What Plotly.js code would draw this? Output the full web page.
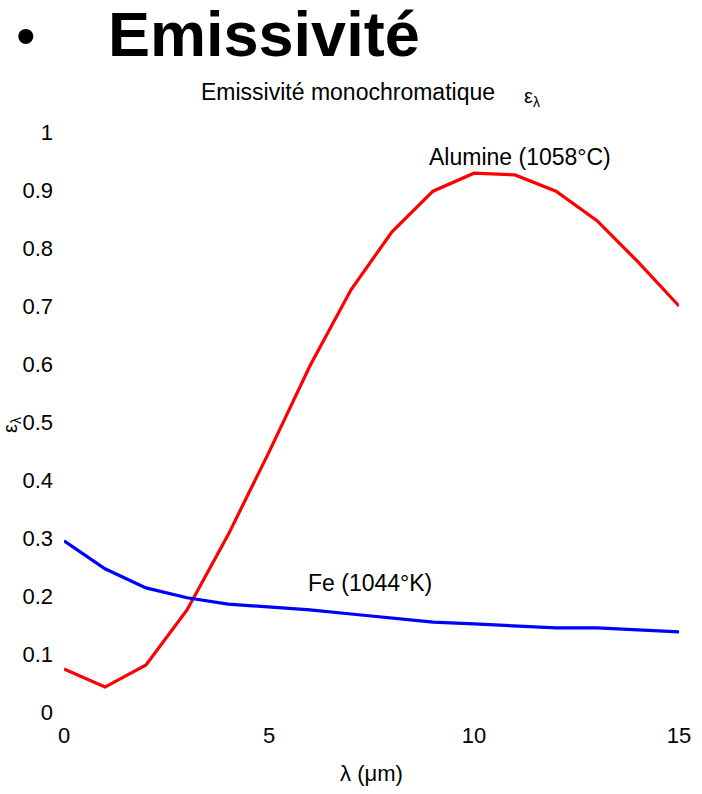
<!DOCTYPE html>
<html><head><meta charset="utf-8">
<script src="https://cdn.plot.ly/plotly-3.0.1.min.js"></script>
<style>html,body{margin:0;padding:0;background:#fff;}#chart{width:702px;height:794px;}</style>
</head><body><div id="chart"></div>
<script>
const lambda = [0,1,2,3,4,5,6,7,8,9,10,11,12,13,14,15];
const alumine = [0.074,0.043,0.081,0.176,0.305,0.448,0.597,0.728,0.828,0.898,0.929,0.926,0.898,0.847,0.776,0.700];
const fer = [0.295,0.247,0.214,0.197,0.186,0.181,0.176,0.169,0.162,0.155,0.152,0.148,0.145,0.145,0.141,0.138];
const xTicks = [0,5,10,15];
const yTicks = [0,0.1,0.2,0.3,0.4,0.5,0.6,0.7,0.8,0.9,1];
const yTickText = ['0','0.1','0.2','0.3','0.4','0.5','0.6','0.7','0.8','0.9','1'];

const font = 'Liberation Sans, Arial, Helvetica, sans-serif';
const traces = [
  {x: lambda, y: alumine, mode:'lines', line:{color:'#ff0000', width:3.2}, name:'Alumine'},
  {x: lambda, y: fer, mode:'lines', line:{color:'#0000ff', width:3.2}, name:'Fe'}
];
const px = v => (v-64)/615;
const py = v => (712-v)/580;
const ann = (o) => Object.assign({showarrow:false, xanchor:'center', yanchor:'middle'}, o);
const layout = {
  width:702, height:794,
  margin:{l:64, r:23, t:132, b:82},
  paper_bgcolor:'#fff', plot_bgcolor:'#fff',
  showlegend:false,
  font:{family:font, size:22, color:'#000'},
  xaxis:{range:[0,15], tickvals:xTicks, showgrid:false, zeroline:false, showline:false,
         ticks:'', ticklabelstandoff:8, tickfont:{size:22},
         title:{text:'λ (μm)', font:{size:22}, standoff:18}},
  yaxis:{range:[0,1], tickvals:yTicks, ticktext:yTickText, showgrid:false, zeroline:false, showline:false,
         ticks:'', ticklabelstandoff:10, tickfont:{size:22}},
  annotations:[
    ann({xref:'paper', yref:'paper', x:px(11), y:py(425), text:'ε<sub>λ</sub>', textangle:-90, font:{size:20}}),
    ann({xref:'paper', yref:'paper', x:px(348), y:py(92), text:'Emissivité monochromatique', font:{size:23}}),
    ann({xref:'paper', yref:'paper', x:px(532), y:py(97), text:'ε<sub>λ</sub>', font:{size:20}}),
    ann({x:11.12, y:0.957, text:'Alumine (1058°C)', font:{size:23}}),
    ann({x:7.46, y:0.222, text:'Fe (1044°K)', font:{size:23}}),
    ann({xref:'paper', yref:'paper', x:px(26), y:py(36), text:'•', font:{size:56, family:font}}),
    ann({xref:'paper', yref:'paper', x:px(264), y:py(34), text:'<b>Emissivité</b>', font:{size:63, family:font}})
  ]
};
Plotly.newPlot('chart', traces, layout, {staticPlot:true});
</script></body></html>
